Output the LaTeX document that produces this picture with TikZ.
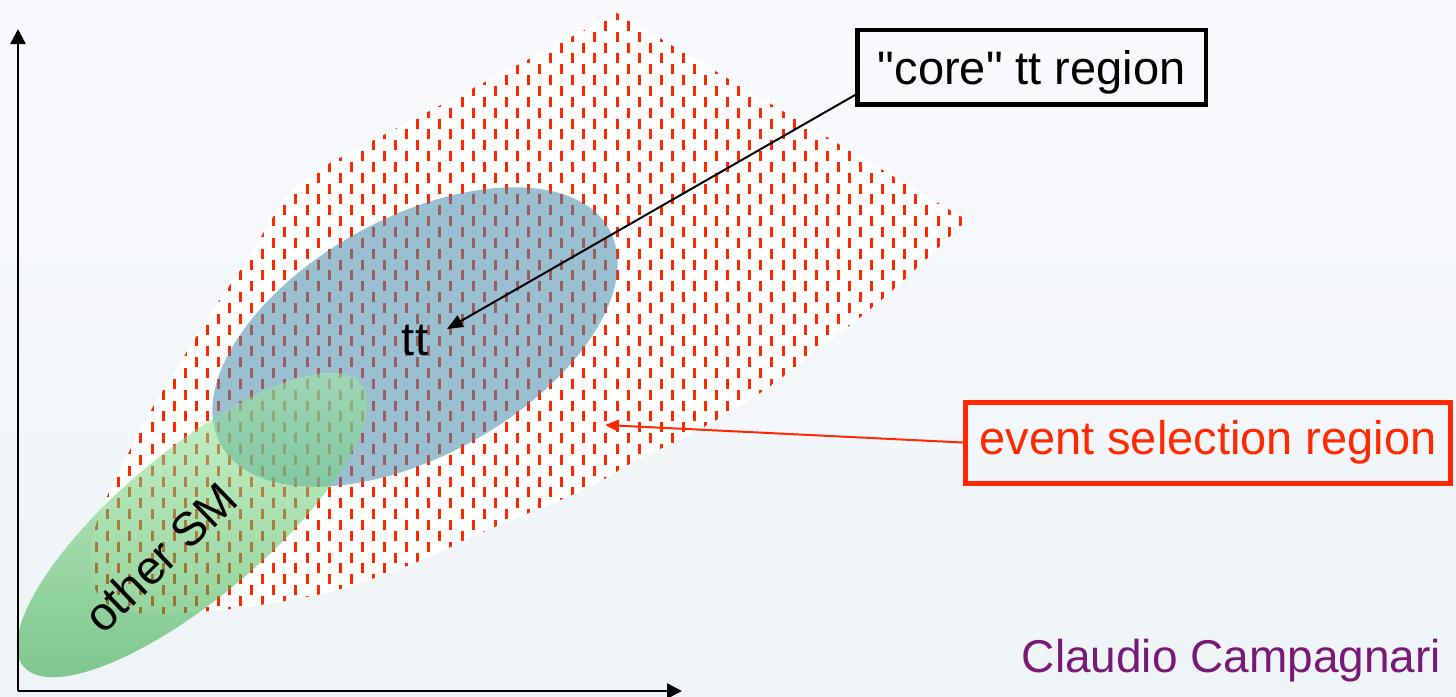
\documentclass[tikz,border=0pt]{standalone}
\usepackage{fontspec}
\setmainfont{Liberation Sans}
\newfontfamily\rawfont{Liberation Sans}
\usetikzlibrary{shapes.geometric,arrows.meta,calc}
\definecolor{hatchred}{RGB}{255,38,0}
\definecolor{bluefill}{RGB}{70,140,170}
\definecolor{greenlight}{RGB}{170,240,170}
\definecolor{greendark}{RGB}{40,165,60}
\definecolor{selred}{RGB}{255,40,0}
\definecolor{authorpurple}{RGB}{120,25,120}
\definecolor{bgtop}{RGB}{250,250,254}
\definecolor{bgbot}{RGB}{238,244,247}
\begin{document}
\begin{tikzpicture}[x=1pt,y=-1pt,
  lbl/.style={font=\fontsize{47}{56}\selectfont},
  hatchdash/.style={draw=hatchred,line width=3pt,dash pattern=on 10pt off 11.7pt},
  axisline/.style={draw=black,line width=2.5pt,-{Triangle[length=15pt,width=15pt]}},
  callout/.style={line width=2pt}]
\useasboundingbox (0,0) rectangle (1456,696);
\shade[top color=bgtop,bottom color=bgbot] (0,0) rectangle (1456,696);

% event selection region (hatched)
\begin{scope}
\clip (617,13) -- (967,220) -- plot[smooth,tension=0.6] coordinates {(967,220) (893,290) (827,343) (760,393) (693,433) (637,460) (583,490) (483,532) (417,562) (337,590) (260,605) (197,612) (140,613) (102,600) (90,560) (100,513) (130,450) (147,417) (180,363) (213,310) (247,260) (273,217) (292,190) (330,163)} -- cycle;
\fill[white] (0,0) rectangle (1456,696);
\foreach \k in {0,...,82}{
  \pgfmathsetmacro{\xx}{74.57+11.07*\k}
  \pgfmathsetmacro{\yy}{-0.85-10.85*mod(\k,2)}
  \draw[hatchdash] (\xx,\yy) -- (\xx,700);
}
\end{scope}

% regions
\node[ellipse,fill=bluefill,fill opacity=0.55,draw=none,inner sep=0,outer sep=0,
      minimum width=444,minimum height=238,rotate=29] (ttell) at (415,337) {};
\node[ellipse,top color=greenlight,bottom color=greendark,fill opacity=0.55,draw=none,inner sep=0,outer sep=0,
      minimum width=440,minimum height=147,rotate=40] (smell) at (192,525) {};

% labels
\node[lbl,anchor=base] (tt) at (415,355) {tt};
\node[lbl,rotate=44] (othersm) at (160,557) {other SM};
\node[lbl,draw=black,line width=4.5pt,minimum width=348.5,minimum height=74.5,inner sep=0,text depth=0pt] (core) at (1031.75,67.25) {\rawfont "core" tt region};
\node[lbl,text=selred,draw=selred,line width=5pt,minimum width=485.5,minimum height=81,inner sep=0] (sel) at (1208,442.5) {event selection region};
\node[font=\fontsize{46}{55}\selectfont,text=authorpurple,anchor=base] (author) at (1231.5,672) {Claudio Campagnari};

% connectors
\coordinate (ttp) at (447,329);
\coordinate (selp) at (605,425);
\draw[callout,-{Triangle[length=16pt,width=13pt]}] ($(core.south west)!0.15!(core.north west)$) -- (ttp);
\draw[callout,selred,-{Triangle[length=14pt,width=12pt]}] (sel.west) -- (selp);

% axes
\coordinate (origin) at (18,691);
\coordinate (ytip) at (18,29);
\coordinate (xtip) at (682,691);
\draw[axisline] (origin) -- (ytip);
\draw[axisline] (origin) -- (xtip);
\end{tikzpicture}
\end{document}
